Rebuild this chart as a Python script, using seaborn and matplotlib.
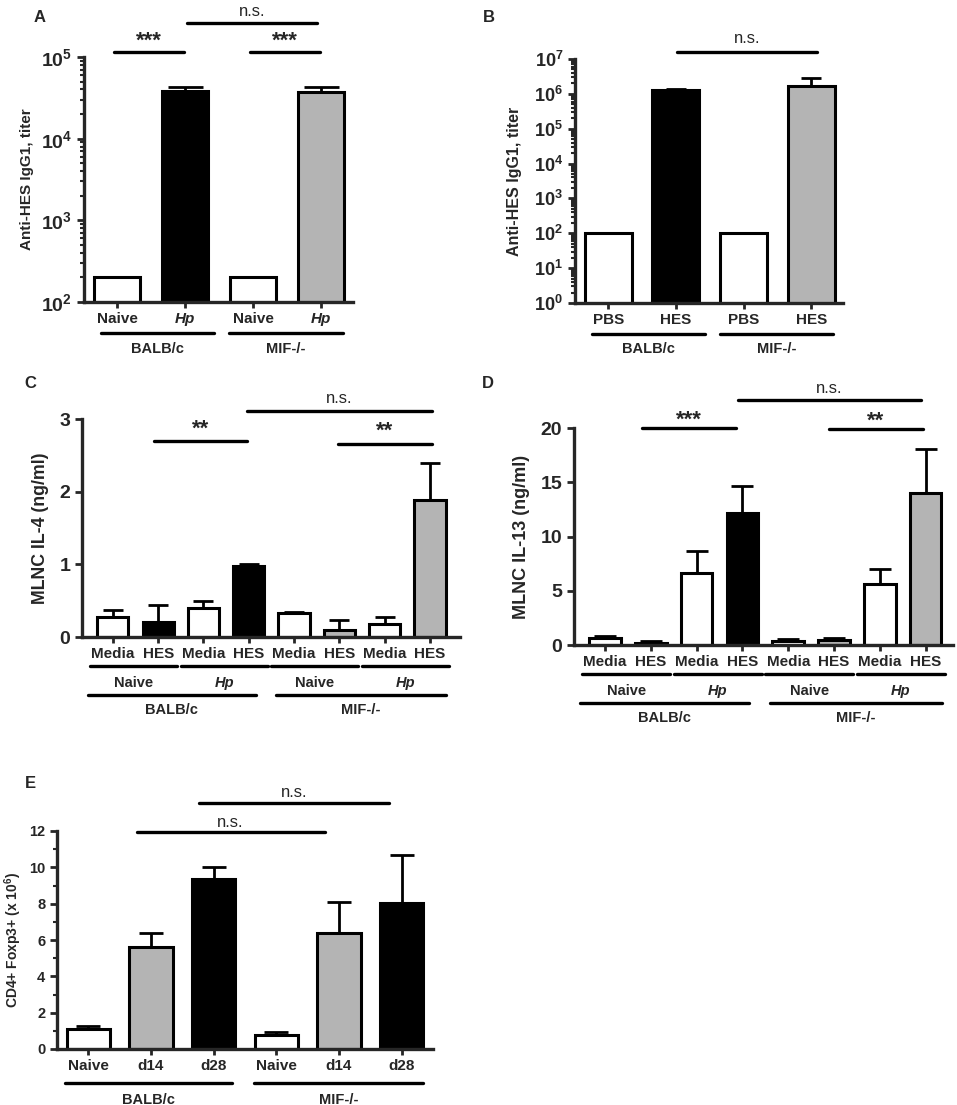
import numpy as np
import pandas as pd
import matplotlib
matplotlib.use("Agg")
import matplotlib.pyplot as plt
import matplotlib.transforms as mtransforms
from matplotlib.ticker import LogLocator, MultipleLocator, NullFormatter, FixedLocator
import seaborn as sns

# ------------------------ data ------------------------
GRAY = "#b4b4b4"

a_labels = ["Naive", "Hp", "Naive", "Hp"]
a_vals = [200, 38600, 200, 37000]
a_err = [0, 4500, 0, 5400]
a_colors = ["white", "black", "white", GRAY]

b_labels = ["PBS", "HES", "PBS", "HES"]
b_vals = [100, 1.26e6, 100, 1.73e6]
b_err = [0, 1.5e5, 0, 1.1e6]
b_colors = ["white", "black", "white", GRAY]

c_labels = ["Media", "HES"] * 4
c_vals = [0.28, 0.21, 0.40, 0.98, 0.33, 0.10, 0.18, 1.88]
c_err = [0.09, 0.23, 0.10, 0.02, 0.01, 0.14, 0.10, 0.51]
c_colors = ["white", "black", "white", "black", "white", GRAY, "white", GRAY]

d_labels = ["Media", "HES"] * 4
d_vals = [0.61, 0.21, 6.66, 12.18, 0.40, 0.46, 5.61, 14.05]
d_err = [0.25, 0.13, 1.96, 2.45, 0.18, 0.18, 1.35, 4.05]
d_colors = ["white", "black", "white", "black", "white", GRAY, "white", GRAY]

e_labels = ["Naive", "d14", "d28", "Naive", "d14", "d28"]
e_vals = [1.10, 5.64, 9.38, 0.79, 6.37, 8.06]
e_err = [0.15, 0.72, 0.64, 0.16, 1.71, 2.62]
e_colors = ["white", GRAY, "black", "white", GRAY, "black"]

strains = ["BALB/c", "MIF-/-"]
infections = ["Naive", "Hp", "Naive", "Hp"]

# ------------------------ style ------------------------
sns.set_style("ticks")
plt.rcParams["font.family"] = ["Liberation Sans", "DejaVu Sans"]
plt.rcParams["font.weight"] = "bold"
plt.rcParams["axes.labelweight"] = "bold"
plt.rcParams["mathtext.fontset"] = "custom"
plt.rcParams["mathtext.rm"] = "Liberation Sans:bold"
plt.rcParams["mathtext.bf"] = "Liberation Sans:bold"
plt.rcParams["mathtext.it"] = "Liberation Sans:bold:italic"

W, H = 957, 1105
fig = plt.figure(figsize=(W / 100, H / 100), dpi=100)


def make_ax(left, right, top, bottom):
    return fig.add_axes([left / W, 1 - bottom / H, (right - left) / W, (bottom - top) / H])


def bars(ax, vals, err, colors, capsize, xlim, log=False):
    if log:
        ax.set_yscale("log")
    df = pd.DataFrame({"pos": [str(i) for i in range(len(vals))], "val": vals})
    sns.barplot(data=df, x="pos", y="val", hue="pos", palette=colors, legend=False,
                width=0.69, edgecolor="black", linewidth=2.2, ax=ax)
    # one-sided (upper) error bars only where there is an error
    idx = [i for i, e in enumerate(err) if e > 0]
    v = np.array([vals[i] for i in idx])
    e = np.array([err[i] for i in idx])
    _, caps, _ = ax.errorbar(idx, v, yerr=[np.zeros(len(idx)), e], fmt="none",
                             ecolor="black", elinewidth=2.0, capsize=capsize,
                             capthick=2.0, zorder=0.5)
    caps[0].remove()
    ax.set_xlim(*xlim)
    sns.despine(ax=ax)
    for s in ["left", "bottom"]:
        ax.spines[s].set_linewidth(2.4)
    ax.set_xlabel("")
    ax.tick_params(axis="x", length=4, width=2, pad=3)
    ax.tick_params(axis="y", which="major", length=5, width=2)
    ax.tick_params(axis="y", which="minor", length=3, width=1.5)


def sig(ax, x0, x1, y, ty, text, size=16, weight="bold"):
    tr = mtransforms.blended_transform_factory(ax.transData, ax.transAxes)
    ax.plot([x0, x1], [y, y], color="black", lw=2.4, transform=tr, clip_on=False)
    ax.text((x0 + x1) / 2, ty, text, transform=tr, ha="center", va="center",
            fontsize=size, fontweight=weight)


def underline(ax, x0, x1, y, ty, text, size=10.5, style="normal"):
    tr = mtransforms.blended_transform_factory(ax.transData, ax.transAxes)
    ax.plot([x0, x1], [y, y], color="black", lw=2.4, transform=tr, clip_on=False)
    ax.text((x0 + x1) / 2, ty, text, transform=tr, ha="center", va="center",
            fontsize=size, fontweight="bold", fontstyle=style)


def xlabels(ax, labels, size):
    ax.set_xticks(range(len(labels)))
    ax.set_xticklabels(labels, fontsize=size, fontweight="bold")
    for t, lab in zip(ax.get_xticklabels(), labels):
        if lab == "Hp":
            t.set_fontstyle("italic")


def log_ticks(ax, lo, hi, size):
    ax.set_ylim(10.0 ** lo, 10.0 ** hi)
    exps = list(range(lo, hi + 1))
    ax.yaxis.set_major_locator(FixedLocator([10.0 ** k for k in exps]))
    ax.set_yticklabels([rf"$\mathbf{{10^{{{k}}}}}$" for k in exps], fontsize=size)
    ax.yaxis.set_minor_locator(LogLocator(base=10, subs=np.arange(2, 10), numticks=30))
    ax.yaxis.set_minor_formatter(NullFormatter())


# ------------------------ A ------------------------
axA = make_ax(84, 353, 57, 302)
bars(axA, a_vals, a_err, a_colors, 12.6, (-0.485, 3.47), log=True)
log_ticks(axA, 2, 5, 14)
xlabels(axA, a_labels, 11)
axA.set_ylabel("Anti-HES IgG1, titer", fontsize=11)
axA.yaxis.set_label_coords(-0.186, 0.5)
sig(axA, -0.04, 0.99, 1.02, 1.065, "***")
sig(axA, 1.96, 2.99, 1.02, 1.065, "***")
sig(axA, 1.03, 2.94, 1.139, 1.185, "n.s.", size=12, weight="normal")
underline(axA, -0.24, 1.43, -0.127, -0.19, strains[0])
underline(axA, 1.65, 3.32, -0.127, -0.19, strains[1])

# ------------------------ B ------------------------
axB = make_ax(575, 843, 59, 303)
bars(axB, b_vals, b_err, b_colors, 7.5, (-0.49, 3.47), log=True)
log_ticks(axB, 0, 7, 13)
xlabels(axB, b_labels, 11)
axB.set_ylabel("Anti-HES IgG1, titer", fontsize=11.5)
axB.yaxis.set_label_coords(-0.198, 0.5)
sig(axB, 1.02, 3.09, 1.029, 1.085, "n.s.", size=12, weight="normal")
underline(axB, -0.24, 1.43, -0.127, -0.19, strains[0])
underline(axB, 1.65, 3.32, -0.127, -0.19, strains[1])

# ------------------------ C ------------------------
axC = make_ax(82, 460, 419, 637)
bars(axC, c_vals, c_err, c_colors, 7, (-0.68, 7.66))
axC.set_ylim(0, 3)
axC.yaxis.set_major_locator(MultipleLocator(1))
axC.tick_params(axis="y", labelsize=14)
xlabels(axC, c_labels, 11)
axC.set_ylabel("MLNC IL-4 (ng/ml)", fontsize=12.8)
axC.yaxis.set_label_coords(-0.087, 0.5)
sig(axC, 0.91, 2.97, 0.899, 0.955, "**")
sig(axC, 4.97, 7.04, 0.885, 0.942, "**")
sig(axC, 2.96, 7.04, 1.037, 1.095, "n.s.", size=12, weight="normal")
for k in range(4):
    underline(axC, 2 * k - 0.5, 2 * k + 1.42, -0.133, -0.211, infections[k],
              style="italic" if infections[k] == "Hp" else "normal")
underline(axC, -0.55, 3.15, -0.266, -0.335, strains[0])
underline(axC, 3.6, 7.35, -0.266, -0.335, strains[1])

# ------------------------ D ------------------------
axD = make_ax(574, 953, 428, 645)
bars(axD, d_vals, d_err, d_colors, 8, (-0.68, 7.6))
axD.set_ylim(0, 20)
axD.yaxis.set_major_locator(MultipleLocator(5))
axD.tick_params(axis="y", labelsize=14)
xlabels(axD, d_labels, 11)
axD.set_ylabel("MLNC IL-13 (ng/ml)", fontsize=13)
axD.yaxis.set_label_coords(-0.116, 0.5)
sig(axD, 0.81, 2.87, 1.0, 1.035, "***")
sig(axD, 4.9, 6.94, 0.995, 1.03, "**")
sig(axD, 2.91, 6.89, 1.129, 1.183, "n.s.", size=12, weight="normal")
for k in range(4):
    underline(axD, 2 * k - 0.5, 2 * k + 1.42, -0.133, -0.211, infections[k],
              style="italic" if infections[k] == "Hp" else "normal")
underline(axD, -0.55, 3.15, -0.266, -0.335, strains[0])
underline(axD, 3.6, 7.35, -0.266, -0.335, strains[1])

# ------------------------ E ------------------------
axE = make_ax(57, 433, 831, 1049)
bars(axE, e_vals, e_err, e_colors, 8.6, (-0.5, 5.5))
axE.set_ylim(0, 12)
axE.yaxis.set_major_locator(MultipleLocator(2))
axE.yaxis.set_minor_locator(MultipleLocator(1))
axE.tick_params(axis="y", labelsize=10.5)
xlabels(axE, e_labels, 11)
axE.set_ylabel(r"CD4+ Foxp3+ (x 10$^{\mathbf{6}}$)", fontsize=10)
axE.yaxis.set_label_coords(-0.088, 0.5)
sig(axE, 1.77, 4.79, 1.128, 1.176, "n.s.", size=12, weight="normal")
sig(axE, 0.77, 3.77, 0.995, 1.04, "n.s.", size=12, weight="normal")
underline(axE, -0.38, 2.3, -0.156, -0.234, strains[0])
underline(axE, 2.64, 5.34, -0.156, -0.234, strains[1])

# ------------------------ panel letters ------------------------
for letter, px, py in [("A", 40, 17), ("B", 489, 17), ("C", 30, 383),
                       ("D", 488, 383), ("E", 30, 783)]:
    fig.text(px / W, 1 - py / H, letter, ha="center", va="center",
             fontsize=12, fontweight="bold")

fig.savefig("out.png", dpi=100)
